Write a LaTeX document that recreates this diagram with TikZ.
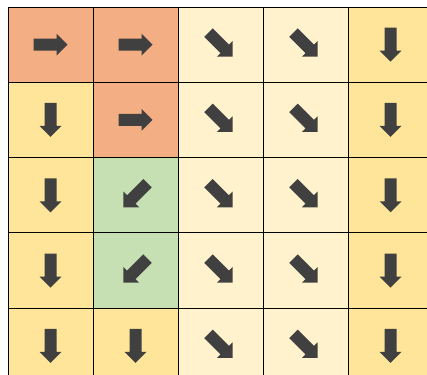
\documentclass[tikz,border=0pt]{standalone}
\definecolor{salmon}{HTML}{F4AE84}
\definecolor{lyel}{HTML}{FFF2CC}
\definecolor{yel}{HTML}{FFE599}
\definecolor{grn}{HTML}{C6E0B4}
\definecolor{arr}{HTML}{404040}
\tikzset{
  cell/.style={draw=black, line width=0.9pt, minimum width=85pt, minimum height=75.3pt, inner sep=0pt, outer sep=0pt, anchor=north west},
  blockarrow/.pic={\fill[arr] (-17,-6) -- (6,-6) -- (6,-11) -- (17,0) -- (6,11) -- (6,6) -- (-17,6) -- cycle;}
}
\begin{document}
\begin{tikzpicture}[x=1pt,y=-1pt]
\useasboundingbox (0,0) rectangle (427,374);
\begin{scope}
\clip (0,0) rectangle (427,374);
\foreach \r/\row in {1/{salmon/0,salmon/0,lyel/-45,lyel/-45,yel/-90},
                     2/{yel/-90,salmon/0,lyel/-45,lyel/-45,yel/-90},
                     3/{yel/-90,grn/-135,lyel/-45,lyel/-45,yel/-90},
                     4/{yel/-90,grn/-135,lyel/-45,lyel/-45,yel/-90},
                     5/{yel/-90,yel/-90,lyel/-45,lyel/-45,yel/-90}}{
  \foreach \col/\ang [count=\c] in \row {
    \pgfmathsetmacro{\xx}{8+85*(\c-1)}
    \pgfmathsetmacro{\yy}{7+75.3*(\r-1)}
    \node[cell, fill=\col] (c\r\c) at (\xx,\yy) {};
    \pic[rotate=\ang] at (c\r\c.center) {blockarrow};
  }
}
\end{scope}
\end{tikzpicture}
\end{document}
